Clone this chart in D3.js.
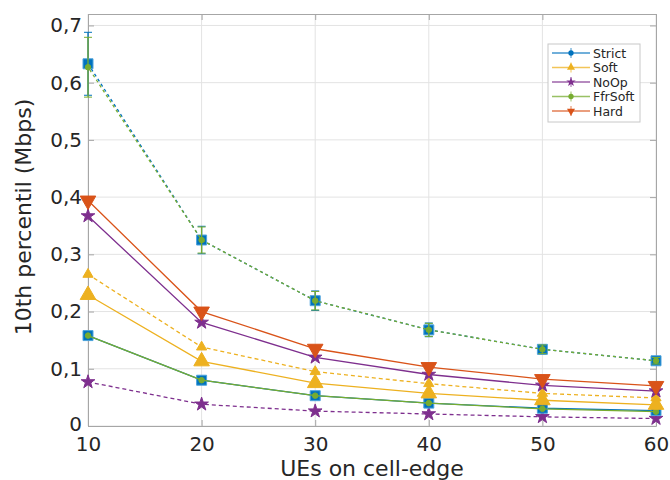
<!DOCTYPE html>
<html><head><meta charset="utf-8">
<script src="https://cdn.jsdelivr.net/npm/d3@7"></script>
<style>body{margin:0;background:#fff}svg{display:block}text{font-family:"DejaVu Sans",sans-serif;fill:#262626}</style>
</head><body><svg id="c" width="670" height="480"></svg>
<script>
const xValues = [10, 20, 30, 40, 50, 60];
const xTicks = [10, 20, 30, 40, 50, 60];
const yTicks = [0, 0.1, 0.2, 0.3, 0.4, 0.5, 0.6, 0.7];
const legendNames = ["Strict", "Soft", "NoOp", "FfrSoft", "Hard"];
// dashed scenario
const strictDashed  = [0.633, 0.325, 0.219, 0.168, 0.134, 0.114];
const ffrSoftDashed = [0.627, 0.325, 0.219, 0.168, 0.134, 0.114];
const topErr        = [0.055, 0.024, 0.017, 0.012, 0.008, 0.006];
const softDashed    = [0.265, 0.138, 0.095, 0.074, 0.057, 0.049];
const noOpDashed    = [0.077, 0.038, 0.026, 0.021, 0.016, 0.013];
// solid scenario
const hardSolid     = [0.394, 0.200, 0.135, 0.103, 0.082, 0.070];
const noOpSolid     = [0.367, 0.181, 0.120, 0.090, 0.071, 0.061];
const softSolid     = [0.229, 0.113, 0.075, 0.057, 0.045, 0.037];
const strictSolid   = [0.158, 0.080, 0.053, 0.040, 0.031, 0.027];
const ffrSoftSolid  = [0.158, 0.080, 0.053, 0.040, 0.030, 0.025];

const C = {blue:"#0072BD", orange:"#D95319", yellow:"#EDB120", purple:"#7E2F8E", green:"#77AC30"};

const svg = d3.select("#c");
const L = 88, R = 656, T = 14, B = 426;
const x = d3.scaleLinear().domain([10, 60]).range([L, R]);
const y = d3.scaleLinear().domain([0, 0.72]).range([B, T]);
const fmt = d => d === 0 ? "0" : d3.format(".1f")(d).replace(".", ",");

// grid
const g = svg.append("g");
g.selectAll(".gx").data(xTicks).join("line").attr("x1", d => x(d)).attr("x2", d => x(d)).attr("y1", T).attr("y2", B).attr("stroke", "#e3e3e3");
g.selectAll(".gy").data(yTicks).join("line").attr("y1", d => y(d)).attr("y2", d => y(d)).attr("x1", L).attr("x2", R).attr("stroke", "#e3e3e3");

// axes
const ax = svg.append("g").attr("transform", `translate(0,${B})`).call(d3.axisBottom(x).tickValues(xTicks).tickSizeInner(-6).tickSizeOuter(0).tickPadding(11).tickFormat(d3.format("d")));
const ay = svg.append("g").attr("transform", `translate(${L},0)`).call(d3.axisLeft(y).tickValues(yTicks).tickSizeInner(-6).tickSizeOuter(0).tickPadding(6).tickFormat(fmt));
const ax2 = svg.append("g").attr("transform", `translate(0,${T})`).call(d3.axisTop(x).tickValues(xTicks).tickSizeInner(-6).tickSizeOuter(0).tickFormat(""));
const ay2 = svg.append("g").attr("transform", `translate(${R},0)`).call(d3.axisRight(y).tickValues(yTicks).tickSizeInner(-6).tickSizeOuter(0).tickFormat(""));
[ax, ay, ax2, ay2].forEach(a => {
  a.select(".domain").attr("stroke", "#a6a6a6");
  a.selectAll(".tick line").attr("stroke", "#a6a6a6");
  a.selectAll(".tick text").attr("font-size", 20).style("fill", "#262626").attr("font-family", "DejaVu Sans");
});
ay.selectAll(".tick text").filter(d => d === 0).attr("dy", "0.2em");

svg.append("text").attr("x", 372).attr("y", 476).attr("text-anchor", "middle").attr("font-size", 22).text("UEs on cell-edge");
svg.append("text").attr("transform", "translate(31,217) rotate(-90)").attr("text-anchor", "middle").attr("font-size", 22).text("10th percentil (Mbps)");

// symbols
const sym = {
  square: d3.symbol(d3.symbolSquare),
  circle: d3.symbol(d3.symbolCircle),
  tri: d3.symbol(d3.symbolTriangle),
  star: d3.symbol(d3.symbolStar)
};
const line = d3.line().x((d, i) => x(xValues[i])).y(d => y(d));

function series(vals, color, dash, marker, size, opts = {}) {
  const gg = svg.append("g");
  if (opts.err) {
    const eg = gg.selectAll(".e").data(vals).join("g");
    eg.append("line").attr("x1", (d, i) => x(xValues[i])).attr("x2", (d, i) => x(xValues[i]))
      .attr("y1", (d, i) => y(d - opts.err[i])).attr("y2", (d, i) => y(d + opts.err[i])).attr("stroke", color).attr("stroke-width", 1.3);
    [-1, 1].forEach(s => eg.append("line").attr("x1", (d, i) => x(xValues[i]) - 4).attr("x2", (d, i) => x(xValues[i]) + 4)
      .attr("y1", (d, i) => y(d + s * opts.err[i])).attr("y2", (d, i) => y(d + s * opts.err[i])).attr("stroke", color).attr("stroke-width", 1));
  }
  gg.append("path").attr("d", line(vals)).attr("fill", "none").attr("stroke", color).attr("stroke-width", 1.3)
    .attr("stroke-dasharray", dash ? (opts.dashArr || "4,3") : null).attr("stroke-dashoffset", opts.offset || 0);
  gg.selectAll(".m").data(vals).join("path")
    .attr("d", sym[marker].size(size)())
    .attr("transform", (d, i) => `translate(${x(xValues[i])},${y(d)})${opts.rot ? " rotate(180)" : ""}`)
    .attr("fill", color).attr("stroke", opts.stroke || color).attr("stroke-width", 1);
}

series(noOpDashed, C.purple, true, "star", 58);
series(strictSolid, C.blue, false, "square", 100, {stroke: "#4da3dc"});
series(ffrSoftSolid, C.green, false, "circle", 24);
series(softSolid, C.yellow, false, "tri", 105);
series(softDashed, C.yellow, true, "tri", 45);
series(noOpSolid, C.purple, false, "star", 58);
series(hardSolid, C.orange, false, "tri", 105, {rot: true});
series(strictDashed, C.blue, true, "square", 100, {err: topErr, stroke: "#4da3dc", dashArr: "3,3"});
series(ffrSoftDashed, C.green, true, "circle", 24, {err: topErr.map(e => e * 0.95), dashArr: "3,3", offset: 3});

// legend
const lg = svg.append("g").attr("transform", "translate(548,44)");
lg.append("rect").attr("width", 92).attr("height", 78).attr("fill", "#fff").attr("stroke", "#c8c8c8");
const legColors = [C.blue, C.yellow, C.purple, C.green, C.orange];
const legMarkers = ["circle", "tri", "star", "circle", "tri"];
legendNames.forEach((n, i) => {
  const yy = 9 + i * 14.5;
  const col = legColors[i];
  lg.append("line").attr("x1", 4).attr("x2", 42).attr("y1", yy).attr("y2", yy).attr("stroke", col).attr("stroke-opacity", 0.75).attr("stroke-width", 1.3);
  lg.append("line").attr("x1", 23).attr("x2", 23).attr("y1", yy - 5).attr("y2", yy + 5).attr("stroke", col).attr("stroke-opacity", 0.75);
  lg.append("path").attr("d", sym[legMarkers[i]].size(legMarkers[i] === "circle" ? 22 : 28)())
    .attr("transform", `translate(23,${yy})${i === 4 ? " rotate(180)" : ""}`).attr("fill", col);
  lg.append("text").attr("x", 45).attr("y", yy + 4.5).attr("font-size", 12.5).text(n);
});
</script></body></html>
